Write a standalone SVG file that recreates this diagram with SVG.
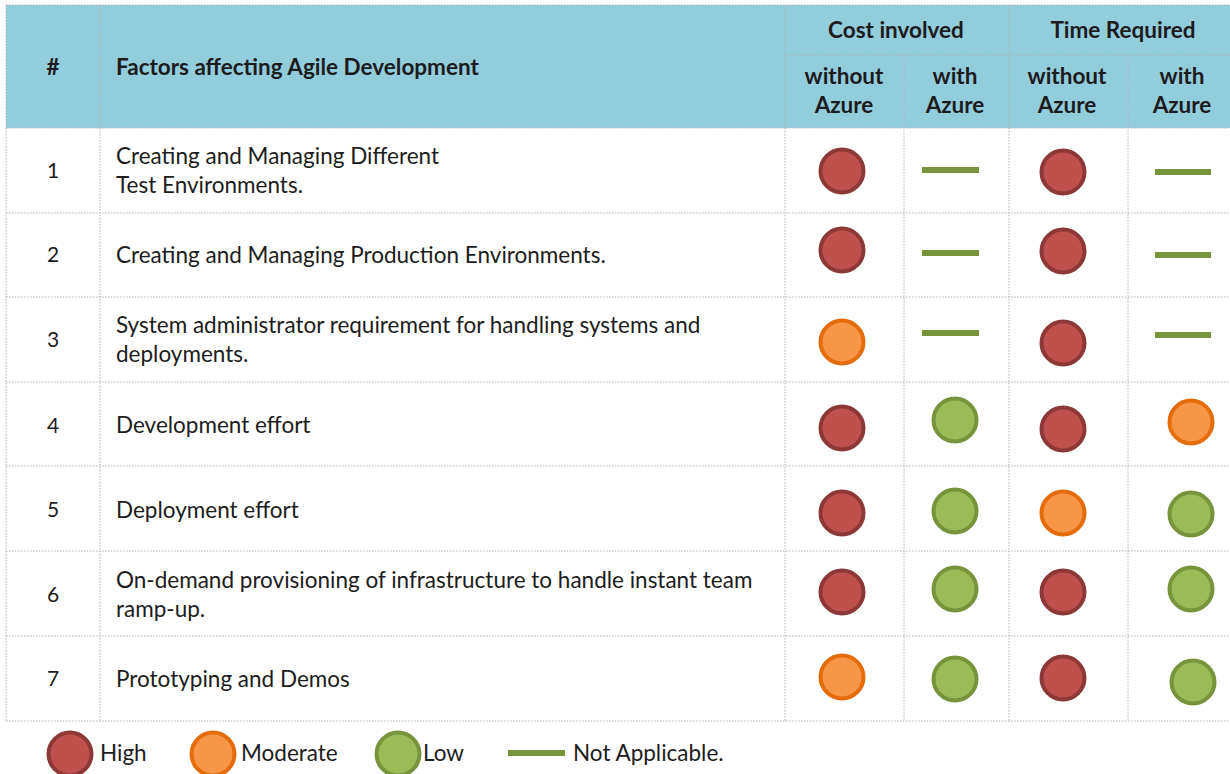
<svg xmlns="http://www.w3.org/2000/svg" width="1230" height="774" viewBox="0 0 1230 774">
<style>
.grid{stroke:#b0b0b0;stroke-width:1;stroke-dasharray:1.5 1.5;fill:none}
.hdr{font-family:Lato,"Liberation Sans",sans-serif;font-weight:bold;font-size:22.5px;fill:#1c1c1c}
.txt{font-family:Lato,"Liberation Sans",sans-serif;font-size:22.5px;fill:#1c1c1c}
.num{font-family:Lato,"Liberation Sans",sans-serif;font-size:21px;fill:#1c1c1c;text-anchor:middle}
.c{text-anchor:middle}
.high{fill:#c0504d;stroke:#8c3836;stroke-width:4}
.mod{fill:#f79646;stroke:#e46c0a;stroke-width:4}
.low{fill:#9bbb59;stroke:#77933c;stroke-width:4}
.na{stroke:#77933c;stroke-width:6;fill:none}
</style>
<rect width="1230" height="774" fill="#ffffff"/>
<g id="header">
<rect x="6" y="5" width="1224" height="123" fill="#92cddc"/>
<text class="hdr c" x="53" y="75">#</text>
<text class="hdr" x="116" y="75">Factors affecting Agile Development</text>
<text class="hdr c" x="896" y="38">Cost involved</text>
<text class="hdr c" x="1123" y="38">Time Required</text>
<text class="hdr c" x="844" y="84">without</text>
<text class="hdr c" x="844" y="113">Azure</text>
<text class="hdr c" x="955" y="84">with</text>
<text class="hdr c" x="955" y="113">Azure</text>
<text class="hdr c" x="1067" y="84">without</text>
<text class="hdr c" x="1067" y="113">Azure</text>
<text class="hdr c" x="1182" y="84">with</text>
<text class="hdr c" x="1182" y="113">Azure</text>
</g>
<g id="grid">
<path class="grid" d="M6 5H1230M785 55H1230M6 128H1230M6 213H1230M6 297H1230M6 382H1230M6 466H1230M6 551H1230M6 636H1230M6 721H1230"/>
<path class="grid" d="M6 5V721M100 5V721M785 5V721M904 55V721M1009 5V721M1128 55V721"/>
</g>
<g id="row1">
<text class="num" x="53" y="178">1</text>
<text class="txt" x="116" y="164">Creating and Managing Different</text>
<text class="txt" x="116" y="193">Test Environments.</text>
<circle class="high" cx="842" cy="171" r="21.5"/>
<line class="na" x1="922" y1="170" x2="979" y2="170"/>
<circle class="high" cx="1063" cy="172" r="21.5"/>
<line class="na" x1="1155" y1="172" x2="1211" y2="172"/>
</g>
<g id="row2">
<text class="num" x="53" y="262">2</text>
<text class="txt" x="116" y="263">Creating and Managing Production Environments.</text>
<circle class="high" cx="842" cy="250" r="21.5"/>
<line class="na" x1="922" y1="253" x2="979" y2="253"/>
<circle class="high" cx="1063" cy="251" r="21.5"/>
<line class="na" x1="1155" y1="255" x2="1211" y2="255"/>
</g>
<g id="row3">
<text class="num" x="53" y="347">3</text>
<text class="txt" x="116" y="333">System administrator requirement for handling systems and</text>
<text class="txt" x="116" y="362">deployments.</text>
<circle class="mod" cx="842" cy="342" r="21.5"/>
<line class="na" x1="922" y1="333" x2="979" y2="333"/>
<circle class="high" cx="1063" cy="343" r="21.5"/>
<line class="na" x1="1155" y1="335" x2="1211" y2="335"/>
</g>
<g id="row4">
<text class="num" x="53" y="433">4</text>
<text class="txt" x="116" y="433">Development effort</text>
<circle class="high" cx="842" cy="428" r="21.5"/>
<circle class="low" cx="955" cy="420" r="21.5"/>
<circle class="high" cx="1063" cy="429" r="21.5"/>
<circle class="mod" cx="1191" cy="422" r="21.5"/>
</g>
<g id="row5">
<text class="num" x="53" y="517">5</text>
<text class="txt" x="116" y="518">Deployment effort</text>
<circle class="high" cx="842" cy="513" r="21.5"/>
<circle class="low" cx="955" cy="511" r="21.5"/>
<circle class="mod" cx="1063" cy="513" r="21.5"/>
<circle class="low" cx="1191" cy="514" r="21.5"/>
</g>
<g id="row6">
<text class="num" x="53" y="602">6</text>
<text class="txt" x="116" y="588">On-demand provisioning of infrastructure to handle instant team</text>
<text class="txt" x="116" y="617">ramp-up.</text>
<circle class="high" cx="842" cy="592" r="21.5"/>
<circle class="low" cx="955" cy="589" r="21.5"/>
<circle class="high" cx="1063" cy="592" r="21.5"/>
<circle class="low" cx="1191" cy="589" r="21.5"/>
</g>
<g id="row7">
<text class="num" x="53" y="686">7</text>
<text class="txt" x="116" y="687">Prototyping and Demos</text>
<circle class="mod" cx="842" cy="677" r="21.5"/>
<circle class="low" cx="955" cy="679" r="21.5"/>
<circle class="high" cx="1063" cy="678" r="21.5"/>
<circle class="low" cx="1193" cy="682" r="21.5"/>
</g>
<g id="legend">
<circle class="high" cx="70" cy="754" r="21.5"/>
<text class="txt" x="100" y="761">High</text>
<circle class="mod" cx="213" cy="754" r="21.5"/>
<text class="txt" x="241" y="761">Moderate</text>
<circle class="low" cx="398" cy="754" r="21.5"/>
<text class="txt" x="423" y="761">Low</text>
<line class="na" x1="508" y1="753" x2="565" y2="753"/>
<text class="txt" x="573" y="761">Not Applicable.</text>
</g>
</svg>
